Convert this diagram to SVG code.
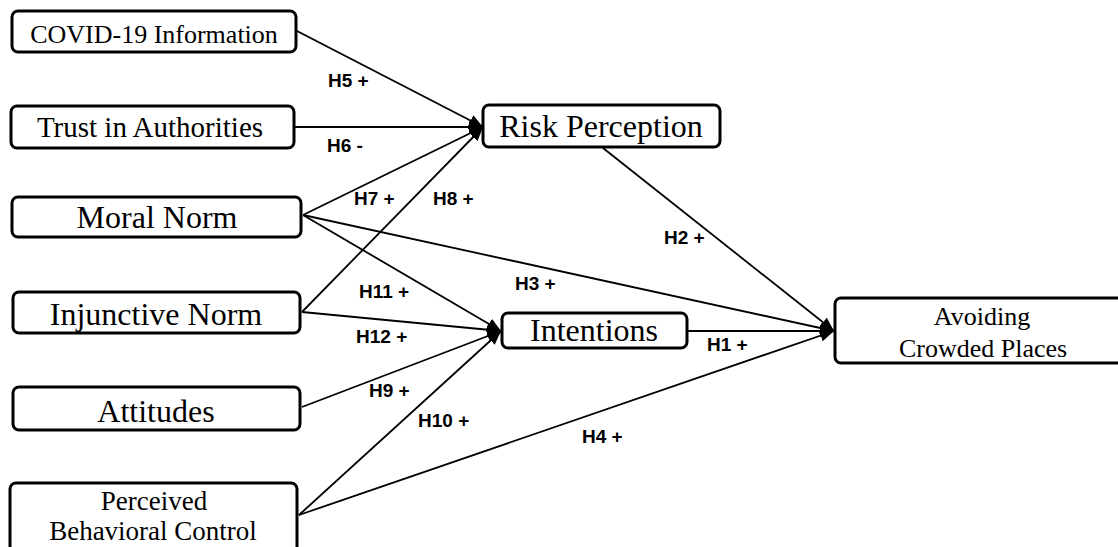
<svg xmlns="http://www.w3.org/2000/svg" width="1118" height="547" viewBox="0 0 1118 547">
<style>
.box{fill:#fff;stroke:#000;stroke-width:3}
.t{font-family:"Liberation Serif","Times New Roman",serif;fill:#000;text-anchor:middle}
.lb{font-family:"Liberation Sans",Arial,sans-serif;font-weight:bold;font-size:19px;fill:#000}
.c{fill:none;stroke:#000;stroke-width:1.8;marker-end:url(#ah)}
</style>
<defs>
<marker id="ah" markerUnits="userSpaceOnUse" markerWidth="16" markerHeight="12" refX="14" refY="6" orient="auto">
<path d="M0,0 L14,6 L0,12 Z" fill="#000"/>
</marker>
</defs>
<rect width="1118" height="547" fill="#fff"/>
<g id="connectors">
<line class="c" x1="297" y1="31" x2="483" y2="127"/>
<line class="c" x1="295" y1="127" x2="483" y2="127"/>
<line class="c" x1="303" y1="215" x2="483" y2="127"/>
<line class="c" x1="302" y1="312" x2="483" y2="127"/>
<line class="c" x1="303" y1="215" x2="501" y2="331"/>
<line class="c" x1="303" y1="215" x2="834" y2="331"/>
<line class="c" x1="302" y1="312" x2="501" y2="331"/>
<line class="c" x1="302" y1="407" x2="501" y2="331"/>
<line class="c" x1="299" y1="515" x2="501" y2="331"/>
<line class="c" x1="299" y1="515" x2="834" y2="331"/>
<line class="c" x1="603" y1="148" x2="834" y2="331"/>
<line class="c" x1="687" y1="331" x2="834" y2="331"/>
</g>
<g id="labels">
<text class="lb" x="328" y="87">H5 +</text>
<text class="lb" x="327" y="152">H6 -</text>
<text class="lb" x="354" y="205">H7 +</text>
<text class="lb" x="433" y="205">H8 +</text>
<text class="lb" x="664" y="244">H2 +</text>
<text class="lb" x="515" y="290">H3 +</text>
<text class="lb" x="359" y="298">H11 +</text>
<text class="lb" x="356" y="343">H12 +</text>
<text class="lb" x="707" y="351">H1 +</text>
<text class="lb" x="369" y="397">H9 +</text>
<text class="lb" x="418" y="427">H10 +</text>
<text class="lb" x="582" y="443">H4 +</text>
</g>
<g id="covid">
<rect class="box" x="12" y="11" width="284" height="41" rx="6"/>
<text class="t" x="154" y="43" font-size="26">COVID-19 Information</text>
</g>
<g id="trust">
<rect class="box" x="11" y="106" width="283" height="42" rx="6"/>
<text class="t" x="150" y="137" font-size="29">Trust in Authorities</text>
</g>
<g id="moral">
<rect class="box" x="12" y="197" width="289" height="40" rx="6"/>
<text class="t" x="157" y="228" font-size="32">Moral Norm</text>
</g>
<g id="injunctive">
<rect class="box" x="13" y="292" width="287" height="41" rx="6"/>
<text class="t" x="156" y="325" font-size="32">Injunctive Norm</text>
</g>
<g id="attitudes">
<rect class="box" x="13" y="387" width="287" height="43" rx="6"/>
<text class="t" x="156" y="422" font-size="32">Attitudes</text>
</g>
<g id="pbc">
<rect class="box" x="10" y="483" width="287" height="70" rx="6"/>
<text class="t" x="154" y="510" font-size="27">Perceived</text>
<text class="t" x="153" y="540" font-size="27">Behavioral Control</text>
</g>
<g id="risk">
<rect class="box" x="483" y="105" width="237" height="42" rx="6"/>
<text class="t" x="601" y="137" font-size="32">Risk Perception</text>
</g>
<g id="intentions">
<rect class="box" x="502" y="313" width="185" height="35" rx="6"/>
<text class="t" x="594" y="341" font-size="32">Intentions</text>
</g>
<g id="avoiding">
<rect class="box" x="835" y="298" width="300" height="65" rx="6"/>
<text class="t" x="982" y="325" font-size="26">Avoiding</text>
<text class="t" x="983" y="357" font-size="26">Crowded Places</text>
</g>
</svg>
